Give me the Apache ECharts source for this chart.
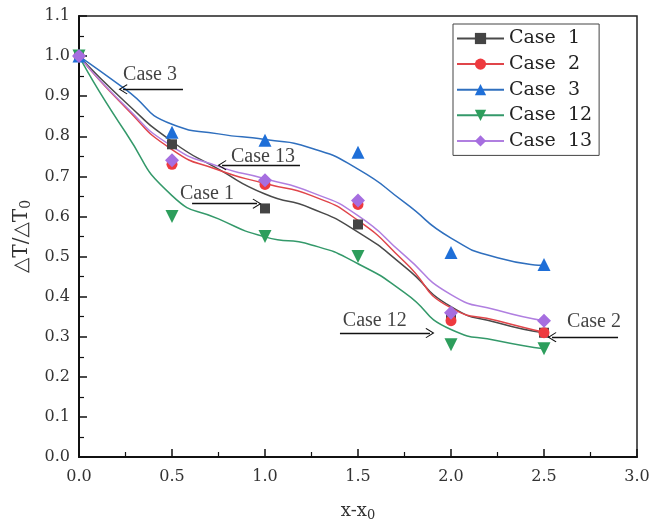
<!DOCTYPE html>
<html>
<head>
<meta charset="utf-8">
<script src="https://cdn.jsdelivr.net/npm/echarts@6/dist/echarts.min.js"></script>
<style>
  html, body { margin: 0; padding: 0; background: #fff; }
  #chart { width: 653px; height: 527px; }
</style>
</head>
<body>
<div id="chart"></div>
<script>
// measured points
const xPts = [0, 0.5, 1.0, 1.5, 2.0, 2.5]
const case1 = [1.0, 0.78, 0.62, 0.58, 0.35, 0.31]
const case2 = [1.0, 0.73, 0.68, 0.63, 0.34, 0.31]
const case3 = [1.0, 0.81, 0.79, 0.76, 0.51, 0.48]
const case12 = [1.0, 0.60, 0.55, 0.50, 0.28, 0.27]
const case13 = [1.0, 0.74, 0.69, 0.64, 0.36, 0.34]

// fitted curves
const xFit = [0, 0.25, 0.5, 0.75, 1.0, 1.25, 1.5, 1.75, 2.0, 2.25, 2.5]
const fit1 = [1.0, 0.885, 0.787, 0.718, 0.656, 0.62, 0.561, 0.475, 0.375, 0.335, 0.31]
const fit2 = [1.0, 0.872, 0.767, 0.716, 0.682, 0.652, 0.59, 0.487, 0.372, 0.34, 0.311]
const fit3 = [1.0, 0.917, 0.83, 0.806, 0.792, 0.77, 0.718, 0.635, 0.546, 0.497, 0.478]
const fit12 = [1.0, 0.81, 0.652, 0.594, 0.549, 0.529, 0.482, 0.41, 0.318, 0.29, 0.27]
const fit13 = [1.0, 0.875, 0.775, 0.725, 0.694, 0.66, 0.602, 0.503, 0.405, 0.366, 0.34]

const caseNames = ['Case 1', 'Case 2', 'Case 3', 'Case 12', 'Case 13']

// annotations: text [x, y, label], arrows [x1, y1, x2, y2]
const noteText = [
  [0.382, 0.953, 'Case 3'],
  [0.989, 0.748, 'Case 13'],
  [0.688, 0.657, 'Case 1'],
  [1.59, 0.341, 'Case 12'],
  [2.769, 0.338, 'Case 2']
]
const noteArrows = [
  [0.559, 0.917, 0.237, 0.917],
  [1.188, 0.728, 0.769, 0.728],
  [0.608, 0.632, 0.957, 0.632],
  [1.403, 0.309, 1.887, 0.309],
  [2.898, 0.299, 2.543, 0.299]
]

const serif = 'Liberation Serif'
const wide = 'DejaVu Serif'
const chevron = 'path://M0,0 L10,12 L8.6,13.2 L0,3 L-8.6,13.2 L-10,12 Z'

const styles = [
  { line: '#4a4a4a', mark: '#444444', symbol: 'rect', size: 10, rotate: 0 },
  { line: '#e0454a', mark: '#ee3a3f', symbol: 'circle', size: 11, rotate: 0 },
  { line: '#2f6fbe', mark: '#1f6fd8', symbol: 'triangle', size: 13, rotate: 0 },
  { line: '#34996a', mark: '#2d9e5c', symbol: 'triangle', size: 13, rotate: 180 },
  { line: '#b07fe0', mark: '#a66ee0', symbol: 'diamond', size: 14, rotate: 0 }
]
const fits = [fit1, fit2, fit3, fit12, fit13]
const pts = [case1, case2, case3, case12, case13]

const zip = (xs, ys) => xs.map((x, i) => [x, ys[i]])

const series = []
caseNames.forEach((name, i) => {
  const s = styles[i]
  series.push({
    name: name,
    type: 'line',
    smooth: 0.6,
    showSymbol: false,
    symbol: s.symbol,
    symbolSize: s.size,
    symbolRotate: s.rotate,
    itemStyle: { color: s.mark },
    lineStyle: { color: s.line, width: 1.5 },
    data: zip(xFit, fits[i]),
    z: 2
  })
})
caseNames.forEach((name, i) => {
  const s = styles[i]
  series.push({
    name: name,
    type: 'scatter',
    symbol: s.symbol,
    symbolSize: s.size,
    symbolRotate: s.rotate,
    itemStyle: { color: s.mark, opacity: 1 },
    data: zip(xPts, pts[i]),
    z: 3
  })
})
series.push({
  name: 'notes',
  type: 'scatter',
  symbolSize: 0,
  silent: true,
  data: noteText,
  label: {
    show: true,
    position: 'inside',
    formatter: p => p.data[2],
    fontFamily: serif,
    fontSize: 20,
    color: '#111'
  },
  markLine: {
    silent: true,
    symbol: ['none', chevron],
    symbolSize: [10, 9],
    label: { show: false },
    lineStyle: { color: '#111', width: 1.3, type: 'solid' },
    data: noteArrows.map(a => [{ coord: [a[0], a[1]] }, { coord: [a[2], a[3]] }])
  },
  z: 4
})

const chart = echarts.init(document.getElementById('chart'))
chart.setOption({
  backgroundColor: '#fff',
  animation: false,
  grid: {
    left: 79,
    right: 16,
    top: 16,
    bottom: 61,
    show: true,
    borderColor: '#222',
    borderWidth: 1.5
  },
  legend: {
    data: caseNames,
    orient: 'vertical',
    left: 453,
    top: 24,
    padding: [4, 7, 4, 3],
    itemWidth: 47,
    itemHeight: 14,
    itemGap: 4.6,
    borderColor: '#444',
    borderWidth: 1,
    backgroundColor: '#fff',
    formatter: n => n.replace(' ', '  '),
    textStyle: {
      fontFamily: wide,
      fontSize: 19,
      lineHeight: 21,
      color: '#222'
    }
  },
  xAxis: {
    type: 'value',
    min: 0,
    max: 3.0,
    interval: 0.5,
    name: 'x-x{sub|0}',
    nameLocation: 'middle',
    nameGap: 44,
    nameTextStyle: {
      fontFamily: wide,
      fontSize: 18,
      color: '#333',
      rich: { sub: { fontSize: 13, padding: [8, 0, 0, 0], fontFamily: wide, color: '#333' } }
    },
    axisLine: { lineStyle: { color: '#111', width: 2 } },
    axisTick: { inside: true, length: 8, lineStyle: { color: '#111', width: 1.5 } },
    minorTick: { show: true, splitNumber: 2, length: 5, lineStyle: { color: '#111', width: 1.2 } },
    splitLine: { show: false },
    axisLabel: {
      margin: 12,
      fontFamily: wide,
      fontSize: 16,
      color: '#333',
      formatter: v => v.toFixed(1)
    }
  },
  yAxis: {
    type: 'value',
    min: 0,
    max: 1.1,
    interval: 0.1,
    name: '△T/△T{sub|0}',
    nameLocation: 'middle',
    nameGap: 42,
    nameRotate: 90,
    nameTextStyle: {
      fontFamily: wide,
      fontSize: 20,
      color: '#333',
      rich: { sub: { fontSize: 14, padding: [10, 0, 0, 0], fontFamily: wide, color: '#333' } }
    },
    axisLine: { lineStyle: { color: '#111', width: 2 } },
    axisTick: { inside: true, length: 8, lineStyle: { color: '#111', width: 1.5 } },
    minorTick: { show: true, splitNumber: 2, length: 5, lineStyle: { color: '#111', width: 1.2 } },
    splitLine: { show: false },
    axisLabel: {
      margin: 9,
      fontFamily: wide,
      fontSize: 16,
      color: '#333',
      formatter: v => v.toFixed(1)
    }
  },
  series: series
})
</script>
</body>
</html>
